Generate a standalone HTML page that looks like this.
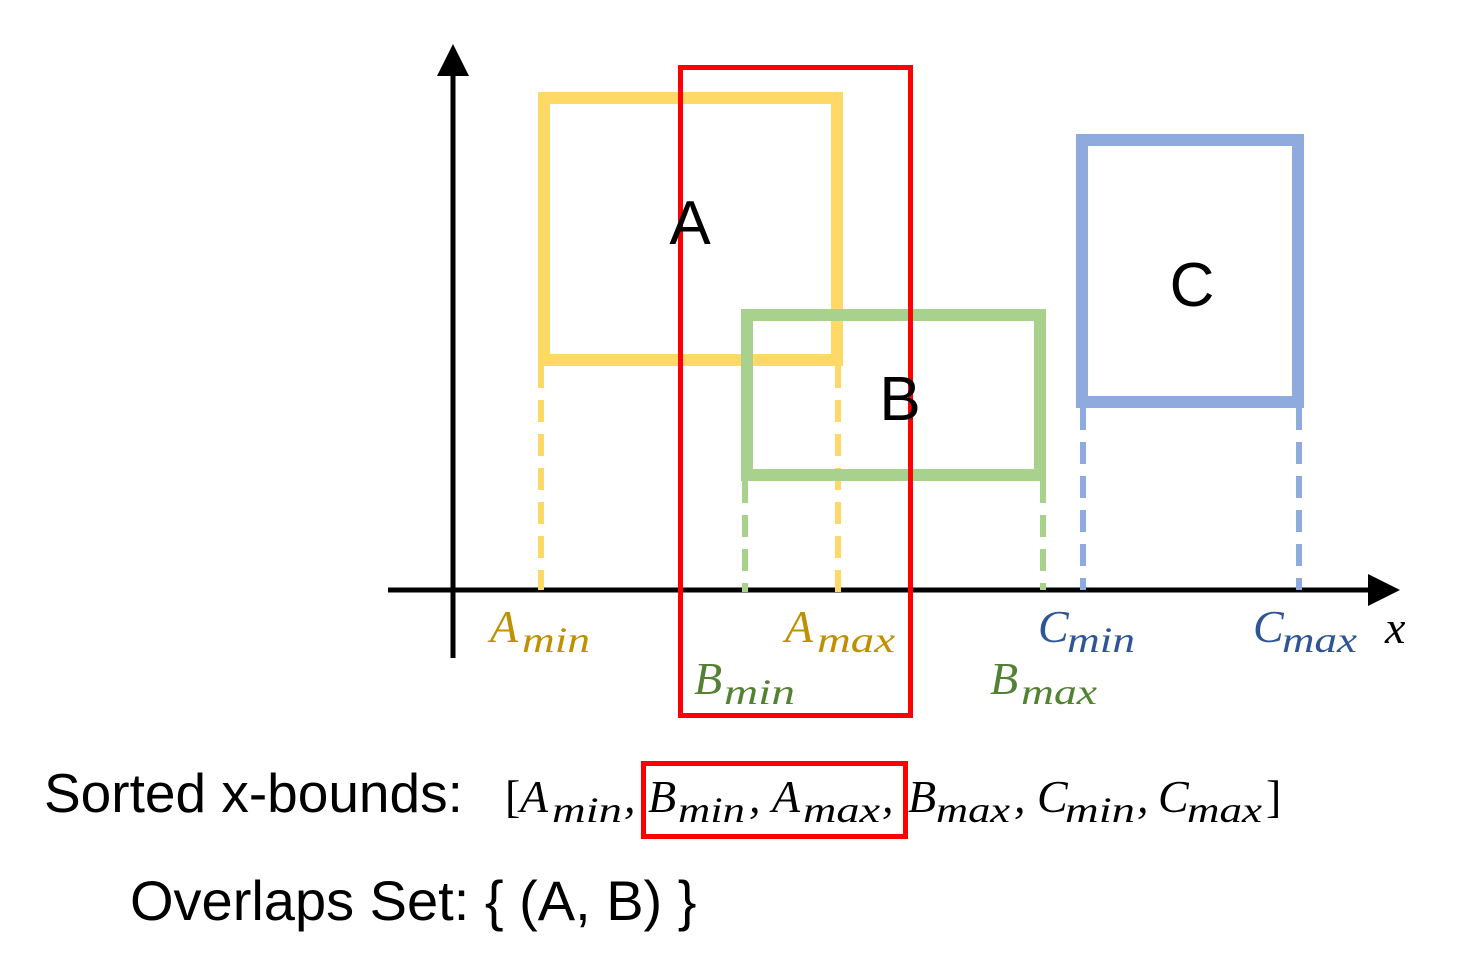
<!DOCTYPE html>
<html><head><meta charset="utf-8"><style>
html,body{margin:0;padding:0;background:#fff;}
svg{display:block;}
.m{font-family:"Liberation Serif",serif;font-style:italic;}
.s{font-family:"Liberation Sans",sans-serif;}
</style></head><body>
<svg width="1460" height="974" viewBox="0 0 1460 974" xmlns="http://www.w3.org/2000/svg">
<line x1="453" y1="70" x2="453" y2="658" stroke="#000" stroke-width="5"/>
<polygon points="453,44 437,76 469,76" fill="#000"/>
<line x1="388" y1="590" x2="1372" y2="590" stroke="#000" stroke-width="5"/>
<polygon points="1400,590 1368,574 1368,606" fill="#000"/>
<g stroke-width="6" stroke-dasharray="22,12" fill="none">
<line x1="541" y1="366" x2="541" y2="590" stroke="#FFD966"/>
<line x1="838" y1="366" x2="838" y2="596" stroke="#FFD966"/>
<line x1="745" y1="481" x2="745" y2="592" stroke="#A9D18E"/>
<line x1="1043" y1="481" x2="1043" y2="590" stroke="#A9D18E"/>
<line x1="1083" y1="408" x2="1083" y2="590" stroke="#8FAADC"/>
<line x1="1299" y1="408" x2="1299" y2="590" stroke="#8FAADC"/>
</g>
<rect x="544" y="98" width="293" height="262" fill="none" stroke="#FFD966" stroke-width="12"/>
<rect x="747" y="315" width="293" height="160" fill="none" stroke="#A9D18E" stroke-width="12"/>
<rect x="1082" y="140" width="216" height="262" fill="none" stroke="#8FAADC" stroke-width="12"/>
<rect x="680.5" y="67.5" width="230" height="648" fill="none" stroke="#FF0000" stroke-width="5"/>
<text x="690" y="244" class="s" font-size="62" text-anchor="middle">A</text>
<text x="900" y="420" class="s" font-size="62" text-anchor="middle">B</text>
<text x="1192" y="306" class="s" font-size="62" text-anchor="middle">C</text>
<g class="m" font-size="46">
<g fill="#BF9000">
<text x="490" y="642">A</text><text x="522" y="652" font-size="36" textLength="68" lengthAdjust="spacingAndGlyphs">min</text>
<text x="785" y="642">A</text><text x="817" y="652" font-size="36" textLength="78" lengthAdjust="spacingAndGlyphs">max</text>
</g>
<g fill="#548235">
<text x="694" y="694">B</text><text x="724" y="704" font-size="36" textLength="71" lengthAdjust="spacingAndGlyphs">min</text>
<text x="990" y="694">B</text><text x="1021" y="704" font-size="36" textLength="76" lengthAdjust="spacingAndGlyphs">max</text>
</g>
<g fill="#2F5597">
<text x="1038" y="642">C</text><text x="1067" y="652" font-size="36" textLength="68" lengthAdjust="spacingAndGlyphs">min</text>
<text x="1253" y="642">C</text><text x="1282" y="652" font-size="36" textLength="75" lengthAdjust="spacingAndGlyphs">max</text>
</g>
<text x="1385" y="643" fill="#000">x</text>
</g>
<text x="44" y="812" class="s" font-size="55">Sorted x-bounds:</text>
<g class="m" font-size="46" fill="#000">
<text x="505" y="812" font-style="normal">[</text>
<text x="520" y="812">A</text><text x="552" y="822" font-size="36" textLength="70" lengthAdjust="spacingAndGlyphs">min</text><text x="624" y="812">,</text>
<text x="648" y="812">B</text><text x="678" y="822" font-size="36" textLength="67" lengthAdjust="spacingAndGlyphs">min</text><text x="749" y="812">,</text>
<text x="772" y="812">A</text><text x="803" y="822" font-size="36" textLength="77" lengthAdjust="spacingAndGlyphs">max</text><text x="882" y="812">,</text>
<text x="908" y="812">B</text><text x="936" y="822" font-size="36" textLength="74" lengthAdjust="spacingAndGlyphs">max</text><text x="1014" y="812">,</text>
<text x="1037" y="812">C</text><text x="1065" y="822" font-size="36" textLength="70" lengthAdjust="spacingAndGlyphs">min</text><text x="1137" y="812">,</text>
<text x="1158" y="812">C</text><text x="1187" y="822" font-size="36" textLength="75" lengthAdjust="spacingAndGlyphs">max</text>
<text x="1266" y="812" font-style="normal">]</text>
</g>
<rect x="643.5" y="763.5" width="262" height="73" fill="none" stroke="#FF0000" stroke-width="5"/>
<text x="130" y="920" class="s" font-size="56">Overlaps Set: { (A, B) }</text>
</svg>
</body></html>
